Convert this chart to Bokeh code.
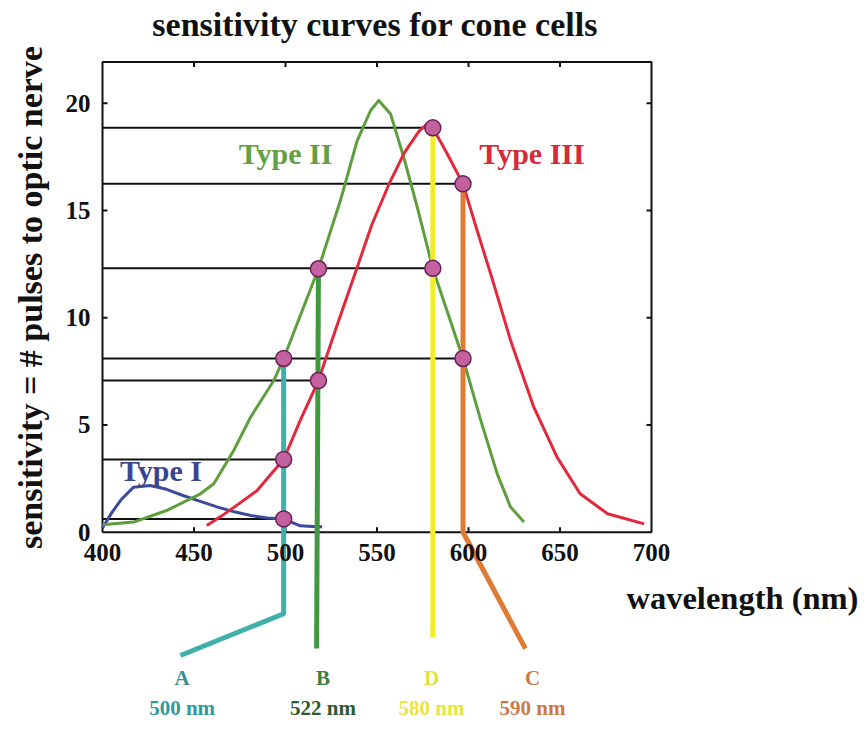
from math import pi
from bokeh.plotting import figure
from bokeh.models import Range1d
from bokeh.core.properties import value
from bokeh.embed import file_html
from bokeh.resources import INLINE

# ---------------- data ----------------
title_text = "sensitivity curves for cone cells"
x_label = "wavelength (nm)"
y_label = "sensitivity = # pulses to optic nerve"

x_ticks = [400, 450, 500, 550, 600, 650, 700]
y_ticks = [0, 5, 10, 15, 20]
x_min, x_max = 400, 700
y_min, y_max = 0, 21.92

# Type I (blue)
t1_x = [400, 405, 410, 417, 426, 435, 444, 453, 463, 472, 481, 490, 499, 508, 517, 520]
t1_y = [0.2, 0.9, 1.5, 2.1, 2.18, 2.0, 1.71, 1.45, 1.17, 0.95, 0.78, 0.66, 0.62, 0.3, 0.25, 0.25]
# Type II (green)
t2_x = [400, 417, 435, 453.5, 460.8, 471.7, 480.9, 493.6, 499, 518, 530, 539.2, 546.5, 551,
        557.4, 564.6, 572, 580.5, 597, 606.7, 615.7, 623, 630.3]
t2_y = [0.35, 0.47, 1.01, 1.79, 2.26, 3.81, 5.36, 7.07, 8.1, 12.28, 15.46, 18.26, 19.66, 20.13,
        19.5, 17.48, 15.15, 12.3, 8.1, 5.21, 2.72, 1.17, 0.47]
# Type III (red)
t3_x = [457, 465, 472, 484.5, 492, 499, 508, 518, 528, 539, 547, 556.4, 565, 573, 577, 580.5,
        588, 597, 604.7, 613, 623, 635.7, 648.4, 661, 676, 696]
t3_y = [0.31, 0.75, 1.17, 1.94, 2.7, 3.39, 5.2, 7.07, 9.6, 12.3, 14.3, 16.2, 17.7, 18.7, 19.0, 18.85,
        17.7, 16.24, 14.07, 11.8, 8.94, 5.83, 3.5, 1.79, 0.86, 0.39]

curve_labels = ["Type I", "Type II", "Type III"]
curve_label_x = [432, 500, 634.7]
curve_label_y = [2.88, 17.65, 17.65]

# marked wavelengths (drawn positions) and the sensitivity values read there
mark_names = ["A", "B", "D", "C"]
mark_nm_text = ["500 nm", "522 nm", "580 nm", "590 nm"]
mark_x = [499, 518, 580.5, 597]
dot_x = [499, 499, 499, 518, 518, 580.5, 580.5, 597, 597]
dot_y = [8.1, 3.39, 0.62, 12.28, 7.07, 18.85, 12.3, 16.24, 8.1]

# reading lines from the y axis to the dots
hline_y = [18.85, 16.24, 12.3, 8.1, 7.07, 3.39, 0.62]
hline_end = [580.5, 597, 580.5, 597, 518, 499, 499]

# leader lines from the marks down to the labels
leadA_x = [499, 499, 442.6]
leadA_y = [8.1, -3.8, -5.75]
leadB_x = [518, 517]
leadB_y = [12.28, -5.42]
leadD_x = [580.5, 580.5]
leadD_y = [18.85, -4.91]
leadC_x = [597, 597, 631.1]
leadC_y = [16.24, 0.0, -5.43]

mark_label_x = [443.5, 520.5, 579.8, 635.0]
mark_letter_y = [-6.8, -6.8, -6.8, -6.8]
mark_nm_y = [-8.2, -8.2, -8.2, -8.2]

# ---------------- layout ----------------
W, H = 860, 724
px_per_nm = 91.5 / 50.0
px_per_unit = 21.45
left_px = 102
zero_px = 531.7
xs = 400 - left_px / px_per_nm
xe = xs + W / px_per_nm
ye = zero_px / px_per_unit
ys = ye - H / px_per_unit

p = figure(width=W, height=H, x_range=Range1d(xs, xe), y_range=Range1d(ys, ye),
           output_backend="svg", toolbar_location=None,
           x_axis_location=None, y_axis_location=None,
           min_border=0, outline_line_color=None, background_fill_color="white")
for g in p.grid:
    g.visible = False

FONT = value("Liberation Serif")
INK = "#111111"

# reading lines
p.segment(x0=[x_min] * len(hline_y), y0=hline_y, x1=hline_end, y1=hline_y,
          line_color=INK, line_width=2)

# frame box
p.line(x=[x_min, x_max, x_max, x_min, x_min], y=[y_min, y_min, y_max, y_max, y_min],
       line_color=INK, line_width=2)

# ticks (inward)
tx = 5 / px_per_nm
ty = 5 / px_per_unit
inner_x = x_ticks[1:-1]
inner_y = y_ticks[1:]
p.segment(x0=inner_x, y0=[y_min] * len(inner_x), x1=inner_x, y1=[y_min + ty] * len(inner_x),
          line_color=INK, line_width=2)
p.segment(x0=inner_x, y0=[y_max] * len(inner_x), x1=inner_x, y1=[y_max - ty] * len(inner_x),
          line_color=INK, line_width=2)
p.segment(x0=[x_min] * len(inner_y), y0=inner_y, x1=[x_min + tx] * len(inner_y), y1=inner_y,
          line_color=INK, line_width=2)
p.segment(x0=[x_max] * len(inner_y), y0=inner_y, x1=[x_max - tx] * len(inner_y), y1=inner_y,
          line_color=INK, line_width=2)

# curves
p.line(t1_x, t1_y, line_color="#3c4a9e", line_width=3, line_join="round")
p.line(t2_x, t2_y, line_color="#5f9e3e", line_width=3, line_join="round")
p.line(t3_x, t3_y, line_color="#e2283c", line_width=3, line_join="round")

# leader lines
p.line(leadA_x, leadA_y, line_color="#3fb0aa", line_width=5)
p.line(leadB_x, leadB_y, line_color="#3f9a3f", line_width=5)
p.line(leadD_x, leadD_y, line_color="#f0ee2a", line_width=5)
p.line(leadC_x, leadC_y, line_color="#e07b35", line_width=5)

# dots
p.scatter(dot_x, dot_y, size=16, fill_color="#c2619e", line_color="#6b2058", line_width=1.5)

# curve labels
p.text(x=curve_label_x, y=curve_label_y, text=curve_labels,
       text_color=["#3a4590", "#62a044", "#d42a3a"],
       text_font=FONT, text_font_style="bold", text_font_size="30px",
       text_align="center", text_baseline="middle")

# tick labels
p.text(x=x_ticks, y=[-0.95] * len(x_ticks), text=[str(v) for v in x_ticks],
       text_font=FONT, text_font_style="bold", text_font_size="25px",
       text_align="center", text_baseline="middle", text_color=INK)
p.text(x=[393.4] * len(y_ticks), y=y_ticks, text=[str(v) for v in y_ticks],
       text_font=FONT, text_font_style="bold", text_font_size="25px",
       text_align="right", text_baseline="middle", text_color=INK)

# axis labels and title
p.text(x=[749.7], y=[-3.05], text=[x_label], text_font=FONT, text_font_style="bold",
       text_font_size="32.5px", text_align="center", text_baseline="middle", text_color=INK)
p.text(x=[360.7], y=[10.94], text=[y_label], angle=pi / 2, text_font=FONT,
       text_font_style="bold", text_font_size="34px", text_align="center",
       text_baseline="middle", text_color=INK)
p.text(x=[549], y=[23.67], text=[title_text], text_font=FONT, text_font_style="bold",
       text_font_size="34px", text_align="center", text_baseline="middle", text_color=INK)

# mark labels
p.text(x=mark_label_x, y=mark_letter_y, text=mark_names,
       text_color=["#3d9090", "#3f7f3f", "#e3df45", "#c87a48"],
       text_font=FONT, text_font_style="bold", text_font_size="21px",
       text_align="center", text_baseline="middle")
p.text(x=mark_label_x, y=mark_nm_y, text=mark_nm_text,
       text_color=["#2f9a9a", "#2f5a2f", "#e8e440", "#c87a48"],
       text_font=FONT, text_font_style="bold", text_font_size="21px",
       text_align="center", text_baseline="middle")

open("out.html", "w").write(file_html(p, INLINE))
